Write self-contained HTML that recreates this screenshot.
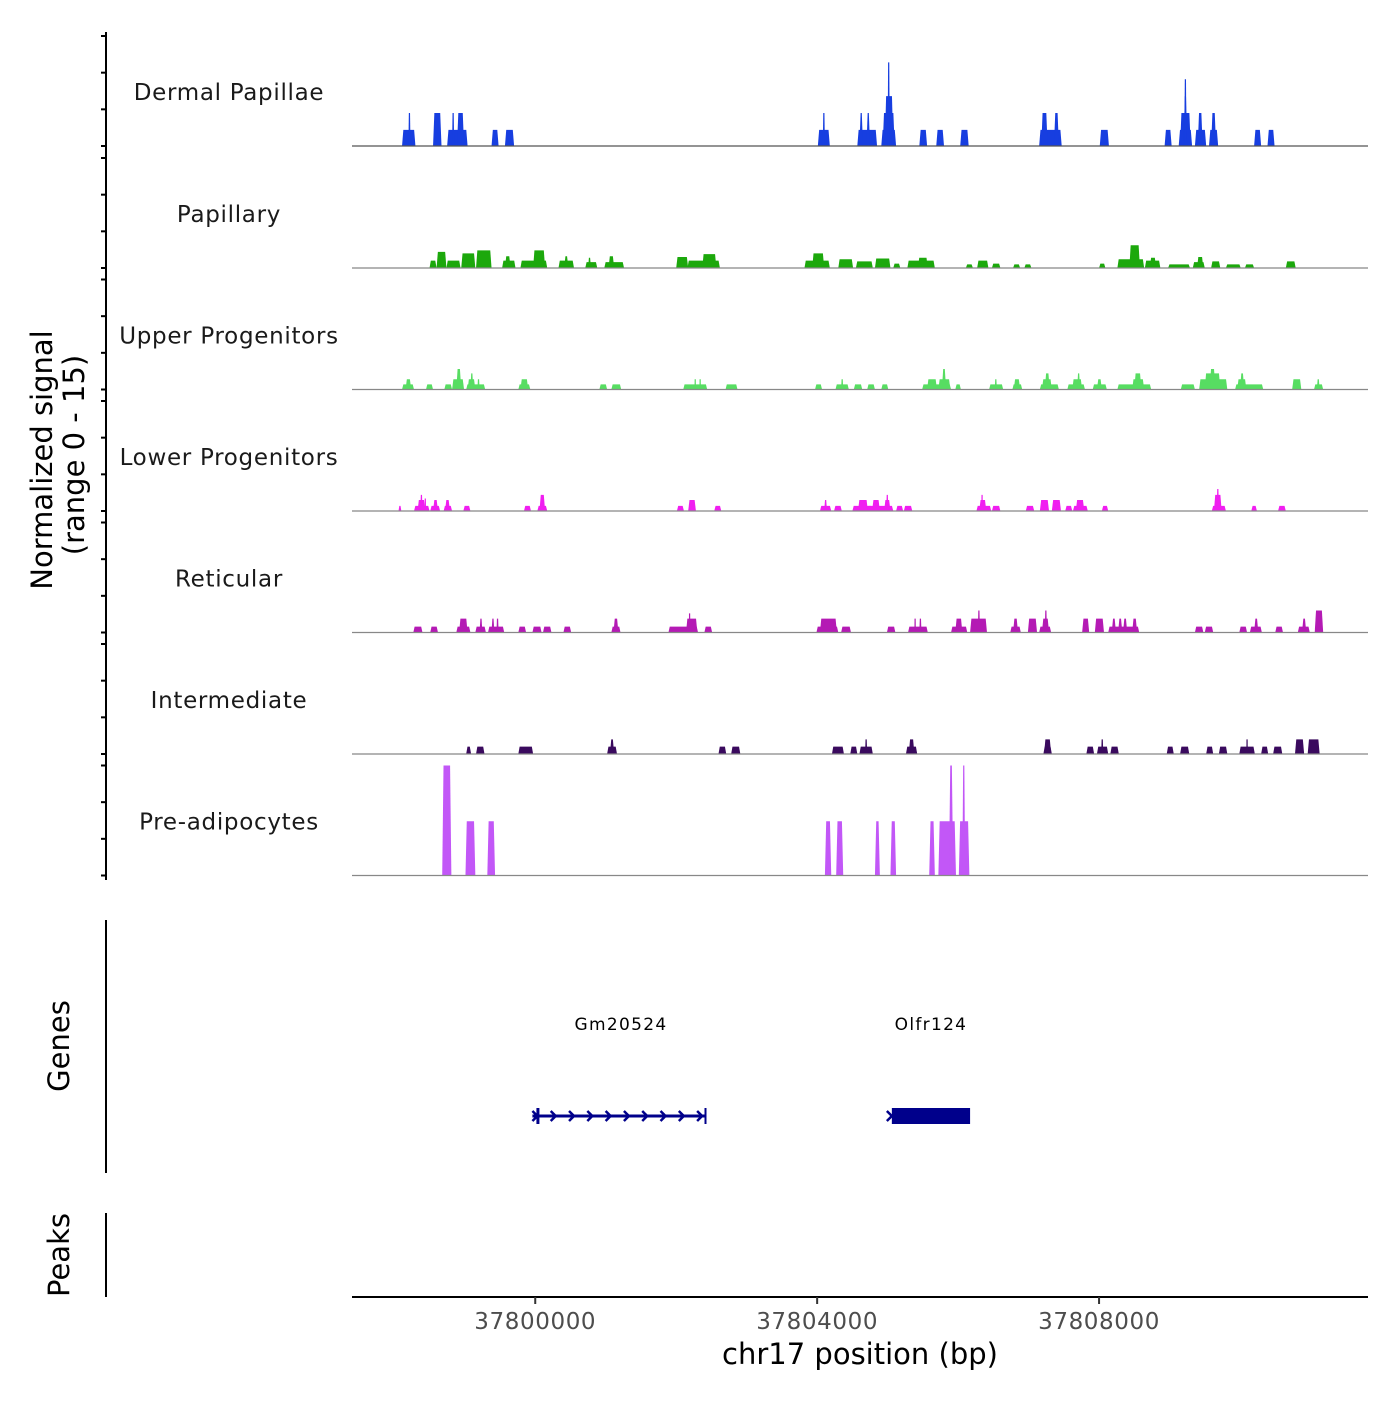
<!DOCTYPE html>
<html><head><meta charset="utf-8"><style>
body{margin:0;background:#fff;}
svg text{font-family:"DejaVu Sans","Liberation Sans",sans-serif;}
</style></head><body>
<svg id="chart" width="1400" height="1400" viewBox="0 0 1400 1400" xmlns="http://www.w3.org/2000/svg">
<rect width="1400" height="1400" fill="#fff"/>
<g id="tracks"></g>
<g id="axes"></g>
</svg>
<script>
// positions are kb offsets from chr17:37,800,000; values are normalized signal (0-15)
const trackNames = ["Dermal Papillae","Papillary","Upper Progenitors","Lower Progenitors","Reticular","Intermediate","Pre-adipocytes"];
const trackColors = ["#173ee0","#1ca80c","#57dd62","#f01ef0","#b41ab4","#3a0a5e","#c257f7"];
const dermalPapillae = [[-1.89,-1.70,2.2],[-1.80,-1.77,4.5],[-1.45,-1.33,4.5],[-1.25,-0.96,2.2],[-1.18,-1.15,4.5],[-1.11,-1.01,4.5],[-0.62,-0.52,2.2],[-0.43,-0.30,2.2],[4.01,4.18,2.2],[4.08,4.11,4.5],[4.57,4.85,2.2],[4.60,4.65,4.5],[4.70,4.75,4.5],[4.91,5.12,2.2],[4.93,5.10,4.5],[4.96,5.08,6.8],[5.00,5.03,11.4],[5.45,5.56,2.2],[5.69,5.80,2.2],[6.03,6.15,2.2],[7.15,7.47,2.2],[7.18,7.27,4.5],[7.36,7.43,4.5],[8.01,8.14,2.2],[8.93,9.03,2.2],[9.13,9.32,2.2],[9.15,9.30,4.5],[9.20,9.25,6.8],[9.21,9.24,9.1],[9.36,9.52,2.2],[9.40,9.47,4.5],[9.56,9.69,2.2],[9.59,9.66,4.5],[10.20,10.30,2.2],[10.39,10.49,2.2]];
const papillary = [[-1.50,-1.40,1.0],[-1.40,-1.26,2.2],[-1.26,-1.06,1.0],[-1.05,-0.85,2.0],[-0.84,-0.62,2.4],[-0.47,-0.28,1.0],[-0.43,-0.35,1.6],[-0.21,0.17,1.0],[-0.03,0.14,2.4],[0.33,0.55,1.0],[0.41,0.47,1.6],[0.71,0.88,0.8],[0.75,0.79,1.4],[0.98,1.26,0.8],[1.04,1.12,1.6],[2.00,2.17,1.5],[2.16,2.62,1.0],[2.37,2.57,1.9],[3.82,4.18,1.0],[3.93,4.10,2.0],[4.30,4.51,1.2],[4.55,4.79,0.9],[4.82,5.04,1.3],[5.08,5.18,0.6],[5.28,5.67,1.0],[5.43,5.57,1.4],[6.11,6.21,0.5],[6.27,6.43,1.0],[6.48,6.60,0.6],[6.78,6.88,0.5],[6.94,7.04,0.5],[8.00,8.09,0.6],[8.26,8.64,1.2],[8.43,8.58,3.1],[8.65,8.87,1.0],[8.72,8.81,1.4],[8.98,9.29,0.5],[9.33,9.50,0.8],[9.39,9.48,1.5],[9.59,9.72,0.9],[9.80,10.01,0.5],[10.07,10.20,0.5],[10.65,10.79,0.9]];
const upperProgenitors = [[-1.89,-1.72,0.7],[-1.84,-1.76,1.4],[-1.55,-1.45,0.7],[-1.29,-1.18,0.7],[-1.18,-1.01,1.4],[-1.12,-1.05,2.8],[-0.98,-0.71,0.7],[-0.96,-0.85,1.4],[-0.92,-0.88,2.2],[-0.82,-0.79,1.4],[-0.24,-0.07,0.7],[-0.21,-0.10,1.4],[0.91,1.02,0.7],[1.08,1.22,0.7],[2.10,2.44,0.7],[2.26,2.28,1.4],[2.33,2.35,1.4],[2.70,2.87,0.7],[3.97,4.07,0.7],[4.26,4.45,0.7],[4.34,4.37,1.4],[4.52,4.64,0.7],[4.71,4.82,0.7],[4.91,5.01,0.7],[5.49,5.90,0.7],[5.56,5.70,1.4],[5.72,5.89,1.4],[5.77,5.83,2.8],[5.96,6.04,0.7],[6.44,6.64,0.7],[6.52,6.55,1.4],[6.77,6.91,0.7],[6.79,6.88,1.4],[7.16,7.43,0.7],[7.19,7.33,1.4],[7.23,7.30,2.2],[7.55,7.80,0.7],[7.62,7.76,1.4],[7.69,7.73,2.2],[7.91,8.11,0.7],[7.97,8.04,1.4],[8.26,8.74,0.7],[8.47,8.64,1.4],[8.50,8.60,2.2],[9.16,9.36,0.7],[9.42,9.82,1.4],[9.50,9.72,2.2],[9.57,9.65,2.8],[9.93,10.33,0.7],[9.96,10.09,1.4],[10.00,10.06,2.2],[10.74,10.87,1.4],[11.05,11.18,0.7],[11.09,11.13,1.4]];
const lowerProgenitors = [[-1.94,-1.90,0.7],[-1.72,-1.50,0.7],[-1.67,-1.56,1.5],[-1.63,-1.60,2.2],[-1.57,-1.55,1.7],[-1.49,-1.35,0.7],[-1.45,-1.38,1.5],[-1.30,-1.18,0.7],[-1.28,-1.21,1.5],[-1.02,-0.92,0.7],[-0.16,-0.06,0.7],[0.03,0.17,0.7],[0.06,0.14,2.2],[2.01,2.11,0.7],[2.17,2.28,1.5],[2.54,2.64,0.7],[4.04,4.20,0.7],[4.10,4.14,1.5],[4.24,4.35,0.7],[4.50,4.78,0.7],[4.58,4.72,1.5],[4.71,5.08,0.7],[4.78,4.89,1.5],[4.95,5.04,1.5],[4.98,5.01,2.2],[5.12,5.22,0.7],[5.23,5.35,0.7],[6.26,6.47,0.7],[6.30,6.40,1.5],[6.33,6.35,2.2],[6.48,6.60,0.7],[6.96,7.08,0.7],[7.16,7.29,1.5],[7.33,7.46,1.5],[7.52,7.62,0.7],[7.63,7.84,0.7],[7.67,7.79,1.5],[8.04,8.13,0.7],[9.60,9.80,0.7],[9.63,9.74,2.2],[9.67,9.70,3.0],[10.16,10.24,0.7],[10.54,10.65,0.7]];
const reticular = [[-1.73,-1.60,0.8],[-1.49,-1.38,0.8],[-1.12,-0.92,0.8],[-1.08,-0.96,1.9],[-0.85,-0.70,0.8],[-0.79,-0.75,1.9],[-0.67,-0.44,0.8],[-0.62,-0.58,1.9],[-0.55,-0.52,1.9],[-0.24,-0.13,0.8],[-0.04,0.09,0.8],[0.11,0.23,0.8],[0.40,0.51,0.8],[1.08,1.21,0.8],[1.11,1.18,1.9],[1.89,2.31,0.8],[2.14,2.30,1.9],[2.18,2.20,2.6],[2.40,2.51,0.8],[3.99,4.30,0.8],[4.04,4.28,1.9],[4.34,4.48,0.8],[4.99,5.11,0.8],[5.29,5.57,0.8],[5.38,5.40,1.9],[5.45,5.48,1.9],[5.90,6.13,0.8],[5.96,6.06,1.9],[6.17,6.41,1.9],[6.28,6.31,3.0],[6.74,6.89,0.8],[6.78,6.85,1.9],[6.99,7.12,1.9],[7.15,7.32,0.8],[7.19,7.29,1.9],[7.23,7.26,3.0],[7.76,7.86,1.9],[7.94,8.07,1.9],[8.13,8.57,0.8],[8.18,8.24,1.9],[8.27,8.33,1.9],[8.34,8.40,1.9],[8.47,8.54,1.9],[9.36,9.48,0.8],[9.50,9.62,0.8],[9.99,10.10,0.8],[10.14,10.31,0.8],[10.20,10.26,1.9],[10.50,10.61,0.8],[10.82,10.99,0.8],[10.88,10.94,1.9],[11.06,11.18,3.0]];
const intermediate = [[-0.98,-0.91,1],[-0.84,-0.72,1],[-0.24,-0.03,1],[1.02,1.16,1],[1.06,1.12,2],[2.60,2.71,1],[2.78,2.91,1],[4.21,4.38,1],[4.47,4.57,1],[4.60,4.79,1],[4.68,4.71,2],[5.26,5.42,1],[5.30,5.38,2],[7.21,7.33,1],[7.22,7.32,2],[7.82,7.93,1],[7.97,8.13,1],[8.03,8.06,2],[8.16,8.28,1],[8.96,9.06,1],[9.15,9.28,1],[9.52,9.62,1],[9.70,9.82,1],[9.99,10.21,1],[10.09,10.11,2],[10.30,10.40,1],[10.47,10.60,1],[10.78,10.91,2],[10.96,11.13,2]];
const preAdipocytes = [[-1.32,-1.19,15],[-0.99,-0.85,7.4],[-0.68,-0.57,7.4],[4.11,4.20,7.4],[4.27,4.37,7.4],[4.82,4.89,7.4],[5.04,5.12,7.4],[5.59,5.67,7.4],[5.72,5.97,7.4],[5.87,5.93,15],[6.01,6.16,7.4],[6.06,6.10,15]];
const tracksData = [dermalPapillae,papillary,upperProgenitors,lowerProgenitors,reticular,intermediate,preAdipocytes];
const xTicks = [37800000,37804000,37808000];
const geneNames = ["Gm20524","Olfr124"];
const geneStarts = [-0.04,5.06];
const geneEnds = [2.43,6.17];

const NS="http://www.w3.org/2000/svg";
const X0=352,X1=1368, D0=-2.6, D1=11.816;
function x(kb){return X0+(kb-D0)/(D1-D0)*(X1-X0);}
function xbp(bp){return x((bp-37800000)/1000);}
const baselines=[146,268,389.5,511,632.5,754,875.5];
const pxPerUnit=110/15;
function y(v,k){return baselines[k]-v*pxPerUnit;}
function el(tag,attrs,parent){const e=document.createElementNS(NS,tag);for(const a in attrs)e.setAttribute(a,attrs[a]);parent.appendChild(e);return e;}
const tg=document.getElementById('tracks'), ag=document.getElementById('axes');

tracksData.forEach((arr,k)=>{
  const g=el('g',{},tg);
  
  
  arr.forEach(p=>{
    const a=x(p[0]), b=x(p[1]), top=y(p[2],k), base=baselines[k];
    let inset=Math.min(1.3,(b-a)/2-0.6); if(inset<0)inset=0;
    const poly=el('polygon',{points:`${a},${base} ${a+inset},${top} ${b-inset},${top} ${b},${base}`,fill:trackColors[k]},g);
    
    
  });
  const bl=el('line',{x1:X0,x2:X1,y1:baselines[k],y2:baselines[k],stroke:k===0?'#555':'#888','stroke-width':1.2},g);
  
  
  const lbl=el('text',{x:229,y:baselines[k]-46,'text-anchor':'middle','font-size':23,fill:'#1a1a1a','letter-spacing':'0.7'},g);
  lbl.textContent=trackNames[k];
  
  
  [0,5,10,15].forEach(v=>{
    const t=el('line',{x1:101,x2:106,y1:y(v,k),y2:y(v,k),stroke:'#000','stroke-width':2},ag);
    
    
  });
});

[[32,880],[920,1173],[1213,1297]].forEach(s=>{
  const l=el('line',{x1:106,x2:106,y1:s[0],y2:s[1],stroke:'#000','stroke-width':2},ag);
  
  
});
const t1=el('text',{transform:'translate(52,460) rotate(-90)','text-anchor':'middle','font-size':29,fill:'#000'},ag);
t1.textContent='Normalized signal';


const t2=el('text',{transform:'translate(84,455) rotate(-90)','text-anchor':'middle','font-size':29,fill:'#000'},ag);
t2.textContent='(range 0 - 15)';


const t3=el('text',{transform:'translate(69,1046) rotate(-90)','text-anchor':'middle','font-size':29,fill:'#000'},ag);
t3.textContent='Genes';


const t4=el('text',{transform:'translate(69,1255) rotate(-90)','text-anchor':'middle','font-size':29,fill:'#000'},ag);
t4.textContent='Peaks';



const xl=el('line',{x1:X0,x2:X1,y1:1297,y2:1297,stroke:'#000','stroke-width':2},ag);


xTicks.forEach(v=>{
  const tk=el('line',{x1:xbp(v),x2:xbp(v),y1:1297,y2:1304,stroke:'#333','stroke-width':2},ag);
  
  
  const tl=el('text',{x:xbp(v),y:1329,'text-anchor':'middle','font-size':23,fill:'#4d4d4d','letter-spacing':'0.6'},ag);
  tl.textContent=String(v);
  
  
});
const xt=el('text',{x:860,y:1364,'text-anchor':'middle','font-size':29,fill:'#000'},ag);
xt.textContent='chr17 position (bp)';



const gg=el('g',{},ag);


const navy='#00008b';
{
  const a=x(geneStarts[0]), b=x(geneEnds[0]), yy=1116;
  const gl=el('line',{x1:a,x2:b,y1:yy,y2:yy,stroke:navy,'stroke-width':3},gg);
  
  
  el('rect',{x:a+4,y:yy-8,width:3,height:16,fill:navy},gg);
  el('rect',{x:b-2,y:yy-8,width:2,height:16,fill:navy},gg);
  for(let px=a;px<=b-2;px+=18.3){
    el('polyline',{points:`${px},${yy-5} ${px+5},${yy} ${px},${yy+5}`,fill:'none',stroke:navy,'stroke-width':2.5},gg);
  }
  const lb=el('text',{x:621,y:1030,'text-anchor':'middle','font-size':17,fill:'#000','letter-spacing':'1.3'},gg);
  lb.textContent=geneNames[0];
  
  
}
{
  const a=x(geneStarts[1]), b=x(geneEnds[1]), yy=1116;
  const r=el('rect',{x:a,y:yy-8,width:b-a,height:16,fill:navy},gg);
  
  
  el('polyline',{points:`${a-5},${yy-5} ${a},${yy} ${a-5},${yy+5}`,fill:'none',stroke:navy,'stroke-width':2.5},gg);
  const lb=el('text',{x:931,y:1030,'text-anchor':'middle','font-size':17,fill:'#000','letter-spacing':'1.3'},gg);
  lb.textContent=geneNames[1];
  
  
}
</script>
</body></html>
